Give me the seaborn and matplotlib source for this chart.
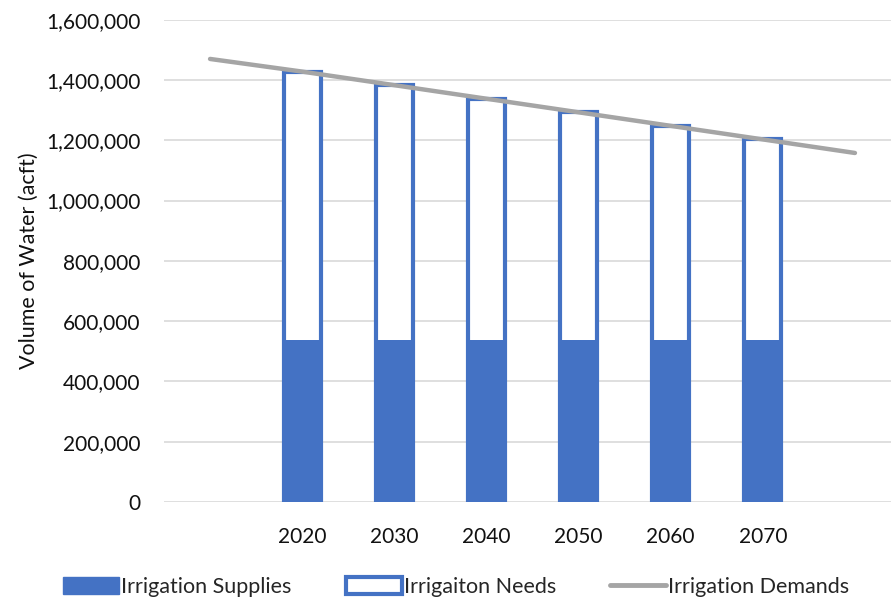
import matplotlib
matplotlib.use("Agg")
import matplotlib.pyplot as plt
import seaborn as sns
import pandas as pd
from matplotlib.patches import Patch
from matplotlib.lines import Line2D
from matplotlib.ticker import FuncFormatter

# Categories: blank slots on both ends so the demand trend extends past the bars
categories = ["", "2020", "2030", "2040", "2050", "2060", "2070", " "]
bar_years = ["2020", "2030", "2040", "2050", "2060", "2070"]
supplies = [538000, 538000, 538000, 538000, 538000, 538000]
needs = [890000, 845000, 800000, 755000, 710000, 665000]
demands = [1470000, 1428000, 1383000, 1338000, 1293000, 1248000, 1203000, 1158000]

blue = "#4472C4"
gray = "#A5A5A5"

sns.set_theme(style="white")
plt.rcParams["font.family"] = ["Lato", "DejaVu Sans"]

fig = plt.figure(figsize=(8.91, 5.99), dpi=100)
# Plot area runs slightly past the right edge of the canvas
ax = fig.add_axes([164 / 891, 0.162, 737 / 891, 0.805])

bars = pd.DataFrame({
    "year": bar_years,
    "supplies": supplies,
    "total": [s + n for s, n in zip(supplies, needs)],
})

# Full stack (supplies + needs) as an outlined white bar
sns.barplot(data=bars, x="year", y="total", order=categories, color="white",
            edgecolor=blue, linewidth=3, width=0.40, saturation=1, ax=ax, zorder=2)
# Supplies drawn over the lower part
sns.barplot(data=bars, x="year", y="supplies", order=categories, color=blue,
            linewidth=0, width=0.445, saturation=1, ax=ax, zorder=3)

# Demand trend across all category slots
line_df = pd.DataFrame({"pos": range(len(categories)), "demand": demands})
sns.lineplot(data=line_df, x="pos", y="demand", color=gray, linewidth=3.2,
             ax=ax, zorder=4, solid_capstyle="round")

ax.set_xlim(-0.5, len(categories) - 0.5)
ax.set_ylim(0, 1600000)
ax.set_yticks(range(0, 1600001, 200000))
ax.yaxis.set_major_formatter(FuncFormatter(lambda v, p: f"{int(v):,}"))
ax.set_xticks(range(len(categories)))
ax.set_xticklabels(categories)
ax.grid(axis="y", color="#D9D9D9", linewidth=1.2)
ax.set_axisbelow(True)
for s in ax.spines.values():
    s.set_visible(False)
ax.tick_params(axis="y", length=0, pad=17, labelsize=15, labelcolor="#111111")
ax.tick_params(axis="x", length=0, pad=18, labelsize=15, labelcolor="#111111")
ax.set_xlabel("")
ax.set_ylabel("Volume of Water (acft)", fontsize=15.5, color="#111111", labelpad=5)

handles = [
    Patch(facecolor=blue, edgecolor=blue, linewidth=1),
    Patch(facecolor="white", edgecolor=blue, linewidth=3),
    Line2D([0], [0], color=gray, linewidth=3.5),
]
labels = ["Irrigation Supplies", "Irrigaiton Needs", "Irrigation Demands"]
fig.legend(handles, labels, loc="lower center", bbox_to_anchor=(0.512, -0.029), ncol=3,
           frameon=False, fontsize=15.5, handlelength=2.6, handleheight=0.8,
           handletextpad=0.1, columnspacing=2.5)

fig.savefig("out.png", dpi=100)
